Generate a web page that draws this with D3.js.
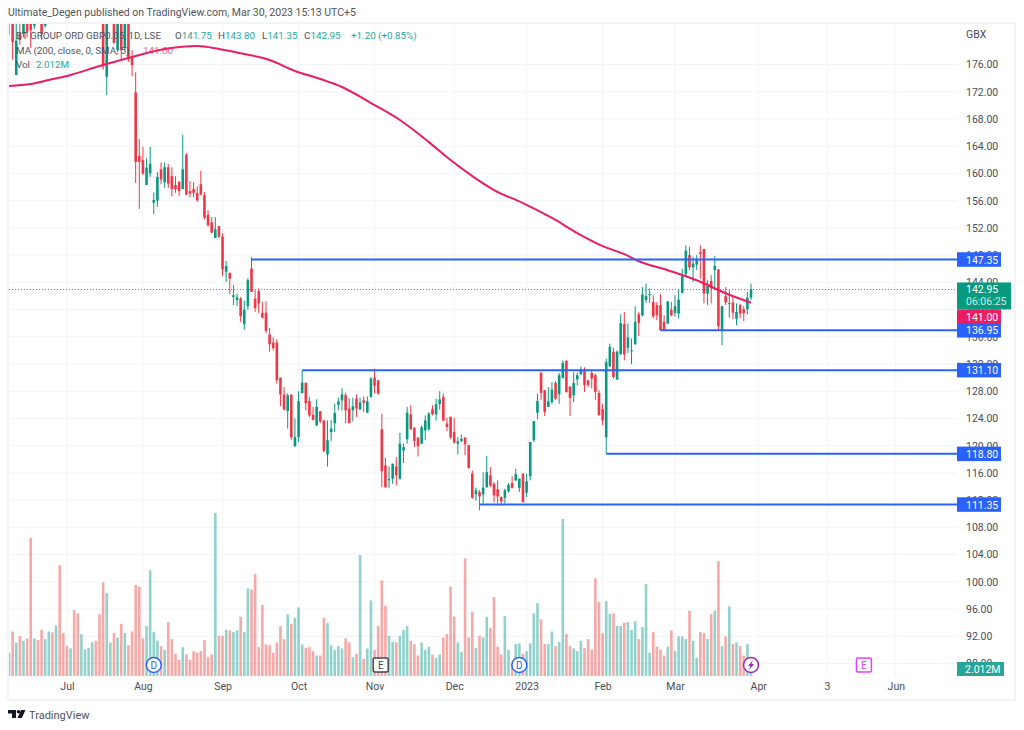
<!DOCTYPE html>
<html>
<head>
<meta charset="utf-8">
<style>
  html, body { margin: 0; padding: 0; background: #fff; }
  svg { display: block; }
  text { font-family: Roboto, "Noto Sans", sans-serif; }
</style>
<script src="https://cdn.jsdelivr.net/npm/d3@7"></script>
</head>
<body>
<div id="chart"></div>
<script>
// daily bars (price in pence, volume in millions)
var opens = [
  182.5,182.1,174.45,180.6,180.5,184,186,181.7,186,185,
  181.7,184,186,184.5,187,185.5,185,184,186,185,
  183.5,185.5,187,188,190,189,188,174.2,184.5,186,
  178.1,185,178.4,184,177.1,171.9,162.55,161.95,158.3,160,
  155.7,156,160.6,158.7,160.9,159.6,158.3,158.8,157.7,162.7,
  157.4,157.7,157.1,158.4,156.8,153.9,152.8,150.5,152.25,150.7,
  145.55,145.4,141.85,141.4,141.6,137.85,140.5,146.05,141.6,142.7,
  139.5,139.55,136.35,135.15,135.15,130,127.5,125.1,127.5,119.9,
  121.25,127.75,129.25,126.55,124.55,123,125.05,123.7,118.7,122,
  123.3,126,126.65,127.4,125.45,125.2,126.9,125.35,126.65,124.85,
  127.15,130,129.6,122.4,117.1,114.9,115.15,116.95,115.15,119.3,
  120.95,124.6,122.65,121.2,120.3,122.25,122.4,125.35,124.6,126.1,
  127.15,123.25,124.2,122,120.3,120.7,121.2,120.1,115.9,112.85,
  113.2,112.85,113.9,115.65,114.4,113.6,112.45,112.35,113.3,114.5,
  114.9,113.8,115.9,113.1,115.5,120.8,124.85,130.75,128.15,125.7,
  126.4,129.2,127.55,129.95,132.45,128.7,127.4,129.75,130.5,131.05,
  129.6,130.7,130.35,127.75,125.35,121.25,131.65,133.8,129.7,133.45,
  137.85,134.4,133.85,134.9,139.3,139.15,141.4,142.15,141.1,140.65,
  140.65,138.2,137.95,140,139.5,139.4,142.45,145.2,148,146.2,
  146.6,148.4,148.9,142.35,144.2,145.8,145.9,136.85,141.95,140.85,
  141.05,138.65,140.65,140.05,140.05,141.75
];
var closes = [
  183.5,179.3,179.5,179.6,182.5,180.8,181.05,185,184,180.5,
  184,185.5,184.5,186.5,185,184.5,184,185.5,184.5,183.5,
  185.5,187,188,189.5,188.5,186.5,175.7,184,186,179.2,
  184,178.1,184,176.8,175.9,161.7,161.7,160,160.85,161.4,
  156.1,159.5,159.1,160.9,158.5,157.7,157.7,157.4,160.6,156.9,
  157.05,157.15,156.05,156.9,153.5,152.4,151.3,151.8,150.7,145.9,
  146.4,144.55,142.1,141.8,139.05,140,144.3,142.6,140.2,140.9,
  138.8,136.85,134.9,134.35,129.6,127.5,125.3,127.4,121.25,121.25,
  126.55,129.25,126.25,124.45,123.8,125.7,123.55,119.2,120.8,122.5,
  124.8,126.5,127.55,125.2,123.3,125.8,125.45,126.35,126.3,126.5,
  129.85,128.8,127.65,116.25,113.9,115.1,117.35,115.65,120.3,119.8,
  124.85,122.45,120.7,119.9,122.7,123.7,124.7,124.6,126.1,126.8,
  123.7,122.75,121.25,120.45,120.65,121,120.2,116.75,112.35,113.45,
  112.55,113.85,116.1,114.15,112.7,112.55,111.8,113.45,114.25,113.8,
  115.8,115.15,111.7,114.75,120.55,123.6,126.55,127.75,124.95,126.5,
  128.25,126.9,130.35,132.15,127.9,127,129.2,130.35,131.2,128.9,
  128.9,129.85,127.9,124.45,123.7,132.3,134.5,130.1,133.8,138,
  133.4,135.9,134,138.2,138.05,142.2,142,142.25,139,139.15,
  136.95,137.05,141.2,139.15,140.5,141.45,144.9,148.65,146.2,146.75,
  147.25,148.15,142.35,143.45,143.1,146.4,137.55,140.5,141.05,140.95,
  139.55,139.65,139.4,139.5,141.75,142.95
];
var highs = [
  184,183.5,182,182,183.5,185,187,186,187,186,
  185,186,187,187,188,186.5,186,186,187,186,
  186,187.5,188.5,190,191,190,189,185,186.5,187,
  185,186,185,185,178.1,174.85,165.05,163.9,162.2,163.9,
  157.2,160.2,161.6,161.6,161.4,160.9,159.6,158.8,165.7,163,
  158.9,158.75,158.1,160.4,157.25,154.6,153.6,153.6,152.25,151.2,
  147.15,145.4,143.6,142.35,141.85,141.3,144.6,147.75,142.85,143.1,
  141.1,141.2,137.3,135.9,135.65,130,128.6,127.7,127.5,124,
  128,131.1,129.25,127.15,125.7,126.8,125.05,123.8,123.7,123.8,
  126.2,127.05,128.45,127.8,126.95,127.05,127.55,127.05,127.25,127.25,
  130.1,131.3,129.6,124.7,118.25,116.95,117.35,118.3,121.9,120.3,
  125.7,125.95,122.65,121.2,123,124.45,124.95,125.95,126.9,128,
  127.65,124.1,124.3,124.1,121.25,121.65,121.25,120.1,116.35,113.85,
  113.45,116.1,118.5,116.85,114.65,114.9,112.55,113.7,114.5,115.5,
  116.6,115.15,115.9,115.9,120.55,123.6,127.65,130.75,128.15,128.6,
  129.35,129.5,130.7,132.55,132.55,128.7,130.8,130.75,131.65,131.5,
  129.7,131.1,130.6,128.15,126.15,132.8,135,134.4,134,139.3,
  139.65,137.95,135.75,140.5,139.65,143.3,143.8,143.1,142.1,141.1,
  142.25,139.15,141.2,141.1,142.1,142.95,146,149.45,149.2,147.75,
  148,149.45,148.9,144.3,145.05,147.85,145.9,140.5,143.3,142.85,
  141.85,140.9,140.8,140.5,142.6,143.8
];
var lows = [
  180.3,176.7,174.45,178.9,180,180,178.4,181.2,183,179.6,
  181.4,183,184,184,184.5,184,183.5,183.5,184,183,
  183,185,186.5,187.5,188,186,175.2,171.5,183.5,179,
  177.8,176.7,178.1,176.4,174.3,158.6,154.75,159.75,158.3,159.5,
  154,155.1,158.4,157.9,157.9,156.6,157.15,156.65,157.7,156.8,
  156.5,156.5,155.8,156.8,153.25,152.15,151.2,150.5,150.5,144.9,
  144.05,142.25,140.65,140.5,138.2,137,140,142.6,139.65,139.45,
  138.7,136.5,133.8,134,129.1,125.8,125.2,122.5,120.8,119.9,
  120.55,127.65,125.2,124.2,123.7,122.85,123.3,119.05,116.95,120.7,
  122,125.2,125.2,123.3,123.3,123.55,124.2,125.2,124.95,124.8,
  127.05,127.65,127.5,113.9,113.8,113.8,114.4,114.15,115,117.45,
  120.3,122.25,119.8,118.4,120.2,120.8,122.25,124.45,123.7,125.3,
  123.55,122.15,121,120.3,118.7,120.55,118.6,116.6,112.2,111.95,
  110.5,111.5,113.8,113.9,111.7,111.5,111.2,111.5,113.1,113.7,
  114.8,113.2,111.7,112.45,114.9,120.55,123.9,126.65,124.35,125.7,
  126.15,126.75,126.15,129.85,127.8,124.35,126.4,128.85,130.35,127.9,
  128.6,128.4,126.75,124.45,123,118.8,131.55,129.85,129.7,133.3,
  132.55,133.6,131.95,134.85,136.1,139,141,141,138.7,138.45,
  136.95,136.95,137.85,139,139,138.7,142.35,144.8,145.8,144.05,
  145.8,144.55,140.9,140.65,140.9,142.85,136.85,134.75,140.65,138.8,
  138.6,137.7,138.7,138.3,139.3,141.35
];
var volumes = [
  2.9,5.56,4.15,4.98,4.4,4.69,17.23,4.69,4.48,5.77,
  4.6,5.56,5.44,6.31,13.81,5.35,3.73,3.44,8.23,7.81,
  5.23,3.31,3.52,4.19,4.4,7.69,11.69,10.35,4.19,5.35,
  4.81,6.52,5.35,3.85,5.56,11.35,11.15,4.69,6.23,13.19,
  5.48,4.4,3.73,3.23,6.73,4.6,2.77,2.02,3.6,2.69,
  2.02,3.1,2.9,3.1,4.48,2.35,2.69,20.35,5.02,5.02,
  5.77,5.69,5.48,5.69,7.4,5.48,10.94,10.81,12.73,3.6,
  8.85,3.94,3.85,2.9,4.19,6.23,4.6,7.69,6.52,7.27,
  8.56,3.94,3.52,3.6,3.1,2.56,2.56,7.27,6.6,3.85,
  3.23,3.73,3.44,4.69,4.19,2.35,2.77,15.1,2.15,3.44,
  9.44,3.23,6.23,11.9,8.77,5.02,4.27,4.19,5.02,5.77,
  6.23,4.4,3.98,2.56,4.19,3.23,3.65,2.69,2.23,2.69,
  4.81,5.23,11.15,7.4,4.19,2.98,14.69,4.81,8.02,3.52,
  5.02,4.81,7.4,5.98,9.85,3.65,2.69,7.48,3.23,1.48,
  3.98,4.06,2.77,3.1,4.06,7.81,9.1,7.06,3.98,3.98,
  5.56,3.73,4.27,19.6,5.23,3.73,3.44,3.1,4.4,3.52,
  4.6,3.31,12.19,9.23,5.35,9.35,7.73,7.81,6.23,6.23,
  6.65,6.73,5.77,6.85,4.6,6.1,11.48,2.9,5.48,3.65,
  3.31,2.56,3.65,5.69,3.1,4.94,4.94,4.6,8.15,4.4,
  2.23,5.48,5.35,4.6,7.73,8.15,14.35,3.73,4.94,8.69,
  3.98,4.19,3.73,2.56,3.98,2.012
];

// 200 day moving average, sampled along the line
var maBars = [0,6,11,16,25,33,43,52,58,65,72,79,86,92,100,108,116,122,128,134,142,150,158,164,170,174,182,190,198,205];
var maValues = [172.84,173.14,173.73,174.31,175.78,176.96,178.28,178.72,178.28,177.55,176.67,175.05,173.87,172.7,170.34,167.84,164.6,161.96,159.6,157.55,155.64,153.45,150.93,149.31,148.14,147.1,145.78,144.31,142.4,141];

// hand drawn support / resistance lines: price and the bar they start from
var levelPrices = [147.35, 136.95, 131.10, 118.80, 111.35];
var levelStarts = [67, 180, 81, 165, 130];

var priceTicks = [176,172,168,164,160,156,152,148,144,140,136,132,128,124,120,116,112,108,104,100,96,92,88];
var timeBars = [16,37,59,80,101,123,143,164,184,207,226,245];
var timeLabels = ["Jul","Aug","Sep","Oct","Nov","Dec","2023","Feb","Mar","Apr","3","Jun"];

var lastPrice = 142.95;
var maLast = 141.00;
var lastVolume = "2.012M";

/** chart size */
var width = 1024;
var height = 730;
var plotLeft = 9;
var plotRight = 957;
var plotTop = 24;
var plotBottom = 676;

var green = "#089981";
var red = "#f23645";
var blue = "#2962ff";
var pink = "#e91e63";
var gridColor = "#f3f4f8";
var textColor = "#4a4d57";

var svg = d3.select("#chart").append("svg")
  .attr("width", width)
  .attr("height", height);

svg.append("clipPath").attr("id", "plot-clip")
  .append("rect")
  .attr("x", plotLeft).attr("y", plotTop)
  .attr("width", plotRight - plotLeft).attr("height", plotBottom - plotTop);

var x = d3.scaleLinear().domain([0, 205]).range([9, 751]);
var y = d3.scaleLinear().domain([88, 176]).range([663.5, 64.5]);
var volY = d3.scaleLinear().domain([0, 20.35]).range([plotBottom, 513]);

var bars = d3.range(opens.length);

/** grid */
svg.append("g").selectAll("line").data(priceTicks).enter().append("line")
  .attr("x1", plotLeft).attr("x2", plotRight)
  .attr("y1", d => y(d)).attr("y2", d => y(d))
  .attr("stroke", gridColor).attr("stroke-width", 1);

svg.append("g").selectAll("line").data(timeBars).enter().append("line")
  .attr("x1", d => x(d)).attr("x2", d => x(d))
  .attr("y1", plotTop).attr("y2", plotBottom)
  .attr("stroke", gridColor).attr("stroke-width", 1);

/** frame */
svg.append("rect")
  .attr("x", 8).attr("y", 23).attr("width", 1007).attr("height", 677)
  .attr("fill", "none").attr("stroke", "#f0f3fa").attr("stroke-width", 2);

var plot = svg.append("g").attr("clip-path", "url(#plot-clip)");

/** volume */
plot.append("g").selectAll("rect").data(bars).enter().append("rect")
  .attr("x", i => x(i) - 1.3)
  .attr("width", 2.6)
  .attr("y", i => volY(volumes[i]))
  .attr("height", i => plotBottom - volY(volumes[i]))
  .attr("fill", i => closes[i] >= opens[i] ? "rgba(38,166,154,.5)" : "rgba(239,83,80,.5)");

/** last price line */
plot.append("line")
  .attr("x1", plotLeft).attr("x2", plotRight)
  .attr("y1", Math.round(y(lastPrice)) + .5).attr("y2", Math.round(y(lastPrice)) + .5)
  .attr("stroke", "#26a69a").attr("stroke-width", 1)
  .attr("stroke-dasharray", "1 2");

/** candles */
var candles = plot.append("g").selectAll("g").data(bars).enter().append("g");

candles.append("line")
  .attr("x1", i => x(i)).attr("x2", i => x(i))
  .attr("y1", i => y(highs[i])).attr("y2", i => y(lows[i]))
  .attr("stroke", i => closes[i] >= opens[i] ? green : red)
  .attr("stroke-width", 1);

candles.append("rect")
  .attr("x", i => x(i) - 1.3)
  .attr("width", 2.6)
  .attr("y", i => y(Math.max(opens[i], closes[i])))
  .attr("height", i => Math.max(1, Math.abs(y(opens[i]) - y(closes[i]))))
  .attr("fill", i => closes[i] >= opens[i] ? green : red);

/** moving average */
var maLine = d3.line()
  .x(i => x(maBars[i]))
  .y(i => y(maValues[i]))
  .curve(d3.curveMonotoneX);

plot.append("path")
  .attr("d", maLine(d3.range(maBars.length)))
  .attr("fill", "none")
  .attr("stroke", pink)
  .attr("stroke-width", 2);

/** drawn levels */
plot.append("g").selectAll("line").data(levelPrices).enter().append("line")
  .attr("x1", (d, i) => x(levelStarts[i]))
  .attr("x2", plotRight)
  .attr("y1", d => y(d)).attr("y2", d => y(d))
  .attr("stroke", blue).attr("stroke-width", 2);

/** price axis */
var priceAxis = d3.axisRight(y)
  .tickValues(priceTicks)
  .tickSize(0)
  .tickPadding(9)
  .tickFormat(d => d.toFixed(2));

var priceG = svg.append("g")
  .attr("transform", `translate(${plotRight},0)`)
  .call(priceAxis);
priceG.select(".domain").remove();
priceG.selectAll("text")
  .attr("fill", textColor)
  .style("font-size", "10.5px")
  .style("font-family", "Roboto, sans-serif");

svg.append("text")
  .attr("x", 966).attr("y", 38)
  .attr("fill", textColor)
  .style("font-size", "10.5px")
  .text("GBX");

/** time axis */
var timeAxis = d3.axisBottom(x)
  .tickValues(timeBars)
  .tickSize(0)
  .tickPadding(7)
  .tickFormat((d, i) => timeLabels[i]);

var timeG = svg.append("g")
  .attr("transform", `translate(0,${plotBottom})`)
  .call(timeAxis);
timeG.select(".domain").remove();
timeG.selectAll("text")
  .attr("fill", textColor)
  .style("font-size", "10.5px")
  .style("font-family", "Roboto, sans-serif");

/** price tags on the axis */
function tag(centre, w, h, fill, label) {
  svg.append("rect")
    .attr("x", plotRight).attr("y", centre - h / 2)
    .attr("width", w).attr("height", h)
    .attr("fill", fill);
  svg.append("text")
    .attr("x", plotRight + 9).attr("y", centre + 4)
    .attr("fill", "#fff")
    .style("font-size", "10.5px")
    .text(label);
}

levelPrices.forEach(function (p) {
  if (p !== 136.95) tag(y(p), 44, 14.5, blue, p.toFixed(2));
});

// current price tag is two lines high
var lastTop = y(lastPrice) - 7;
svg.append("rect")
  .attr("x", plotRight).attr("y", lastTop)
  .attr("width", 54).attr("height", 27)
  .attr("fill", green);
svg.append("text")
  .attr("x", plotRight + 9).attr("y", lastTop + 11)
  .attr("fill", "#fff").style("font-size", "10.5px")
  .text(lastPrice.toFixed(2));
svg.append("text")
  .attr("x", plotRight + 9).attr("y", lastTop + 23)
  .attr("fill", "#cdeae4").style("font-size", "10.5px")
  .text("06:06:25");

// the MA tag is pushed down below the current price tag
tag(lastTop + 27 + 7.25, 44, 14.5, pink, maLast.toFixed(2));
tag(y(136.95), 44, 14.5, blue, (136.95).toFixed(2));

svg.append("rect")
  .attr("x", plotRight).attr("y", 662)
  .attr("width", 47).attr("height", 14)
  .attr("fill", "#26a69a");
svg.append("text")
  .attr("x", plotRight + 8).attr("y", 673)
  .attr("fill", "#fff").style("font-size", "10.5px")
  .text(lastVolume);

/** events along the bottom */
function circleEvent(bar, colour) {
  var g = svg.append("g").attr("transform", `translate(${x(bar)},665)`);
  g.append("circle").attr("r", 7.5)
    .attr("fill", "#fff").attr("stroke", colour).attr("stroke-width", 1.5);
  return g;
}
function squareEvent(bar, colour) {
  var g = svg.append("g").attr("transform", `translate(${x(bar)},665)`);
  g.append("rect")
    .attr("x", -7.5).attr("y", -7).attr("width", 15).attr("height", 14).attr("rx", 1.5)
    .attr("fill", "#fff").attr("stroke", colour).attr("stroke-width", 1.5);
  g.append("text").attr("text-anchor", "middle").attr("y", 3.5)
    .attr("fill", colour).style("font-size", "10px").text("E");
  return g;
}

[40, 141].forEach(function (b) {
  circleEvent(b, blue).append("text")
    .attr("text-anchor", "middle").attr("y", 3.5)
    .attr("fill", blue).style("font-size", "10px").text("D");
});
squareEvent(102.7, "#434651");
squareEvent(236.2, "#e040fb");

var bolt = circleEvent(205, "#9c27b0");
bolt.append("path")
  .attr("d", "M2 -5 L-3 1 L-0.5 1 L-2 5 L3 -1 L0.5 -1 Z")
  .attr("fill", "#9c27b0");

/** header */
svg.append("text")
  .attr("x", 8).attr("y", 16)
  .attr("fill", "#50535e")
  .style("font-size", "10.5px")
  .text("Ultimate_Degen published on TradingView.com, Mar 30, 2023 15:13 UTC+5");

/** legend */
var legend = svg.append("g").style("font-size", "9.8px");

legend.append("text").attr("x", 16).attr("y", 39).attr("fill", "#50535e").text("BT GROUP ORD GBP0.05, 1D, LSE");
[["O", "141.75", 175], ["H", "143.80", 218], ["L", "141.35", 262], ["C", "142.95", 304]].forEach(function (d) {
  var t = legend.append("text").attr("x", d[2]).attr("y", 39).attr("fill", "#50535e").text(d[0]);
  t.append("tspan").attr("fill", "#26a69a").text(d[1]);
});
legend.append("text").attr("x", 351).attr("y", 39).attr("fill", "#26a69a").text("+1.20 (+0.85%)");

legend.append("text").attr("x", 16).attr("y", 54).attr("fill", "#50535e").text("MA (200, close, 0, SMA, 5)");
legend.append("text").attr("x", 143).attr("y", 54).attr("fill", pink).attr("fill-opacity", .75).text(maLast.toFixed(2));

legend.append("text").attr("x", 16).attr("y", 68).attr("fill", "#50535e").text("Vol");
legend.append("text").attr("x", 36).attr("y", 68).attr("fill", "#26a69a").text(lastVolume);

/** tradingview mark */
var logo = svg.append("g").attr("transform", "translate(8,710)").attr("fill", "#131722");
logo.append("path").attr("d", "M0 0H8V8H4V3.5H0Z");
logo.append("circle").attr("cx", 10.5).attr("cy", 1.8).attr("r", 1.8);
logo.append("path").attr("d", "M13 0H17.5L13.8 8H9.5Z");

svg.append("text")
  .attr("x", 29).attr("y", 719)
  .attr("fill", "#50535e")
  .style("font-size", "11px")
  .text("TradingView");
</script>
</body>
</html>
